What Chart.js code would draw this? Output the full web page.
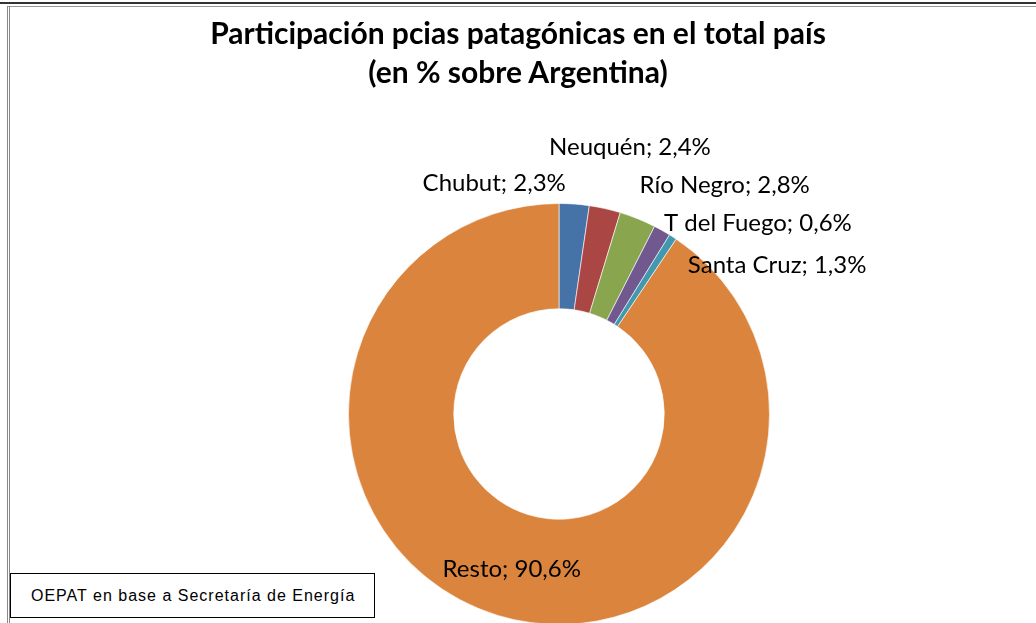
<!DOCTYPE html>
<html>
<head>
<meta charset="utf-8">
<script src="https://cdn.jsdelivr.net/npm/chart.js@4/dist/chart.umd.min.js"></script>
<style>
  html, body { margin: 0; padding: 0; width: 1036px; height: 623px; overflow: hidden; background: #fff; }
  #topline { position: absolute; left: 0; top: 2px; width: 1036px; height: 2px; background: #333; }
  #topline2 { position: absolute; left: 8px; top: 6px; width: 1028px; height: 1px; background: #999; }
  #leftline { position: absolute; left: 7px; top: 6px; width: 3px; height: 617px; border-left: 1px solid #888; border-right: 1px solid #888; box-sizing: border-box; }
  #title { position: absolute; left: 0; width: 1036px; top: 13px; text-align: center;
           font-family: Lato, sans-serif; font-weight: bold; font-size: 30px; line-height: 39px; color: #000; }
  #wrap { position: absolute; left: 0; top: 0; width: 1036px; height: 640px; }
  #source { position: absolute; left: 10px; top: 573px; width: 365px; height: 45px; border: 1px solid #000;
            box-sizing: border-box; font-family: "Liberation Sans", sans-serif; font-size: 16px;
            line-height: 43px; padding-left: 20px; letter-spacing: 1px; color: #000; background: #fff; }
</style>
</head>
<body>
<div id="wrap"><canvas id="myChart"></canvas></div>
<div id="topline"></div>
<div id="topline2"></div>
<div id="leftline"></div>
<div id="title">Participación pcias patagónicas en el total país<br>(en % sobre Argentina)</div>
<div id="source">OEPAT en base a Secretaría de Energía</div>
<script>
const provincias = ['Chubut', 'Neuquén', 'Río Negro', 'Santa Cruz', 'T del Fuego', 'Resto'];
const participacion = [2.3, 2.4, 2.8, 1.3, 0.6, 90.6];
const colores = ['#4572A7', '#AA4643', '#89A54E', '#71588F', '#4198AF', '#DB843D'];
// desplazamiento de cada etiqueta desde el borde exterior de su porción
const labelOffsets = [[-80, -21], [25, -61], [87, -34], [115, 35], [85, -14], [14, -46]];

const fmt = (v) => v.toFixed(1).replace('.', ',') + '%';

const labelsPlugin = {
    id: 'sliceLabels',
    afterDatasetsDraw(chart) {
        const ctx = chart.ctx;
        const meta = chart.getDatasetMeta(0);
        ctx.save();
        ctx.font = '24px Lato, sans-serif';
        ctx.fillStyle = '#000';
        ctx.textAlign = 'center';
        ctx.textBaseline = 'middle';
        meta.data.forEach((arc, i) => {
            const p = arc.getProps(['x', 'y', 'startAngle', 'endAngle', 'outerRadius'], true);
            const mid = (p.startAngle + p.endAngle) / 2;
            const x = p.x + Math.cos(mid) * p.outerRadius + labelOffsets[i][0];
            const y = p.y + Math.sin(mid) * p.outerRadius + labelOffsets[i][1];
            ctx.fillText(`${provincias[i]}; ${fmt(participacion[i])}`, x, y);
        });
        ctx.restore();
    }
};

const ctx = document.getElementById('myChart').getContext('2d');
const myChart = new Chart(ctx, {
    type: 'doughnut',
    data: {
        labels: provincias,
        datasets: [{
            data: participacion,
            backgroundColor: colores,
            borderColor: 'rgba(255,255,255,0.6)',
            borderWidth: 1
        }]
    },
    options: {
        responsive: true,
        maintainAspectRatio: false,
        animation: false,
        cutout: '50%',
        layout: { padding: { left: 348, right: 266, top: 203, bottom: 15 } },
        plugins: {
            legend: { display: false },
            tooltip: { enabled: false }
        }
    },
    plugins: [labelsPlugin]
});
</script>
</body>
</html>
